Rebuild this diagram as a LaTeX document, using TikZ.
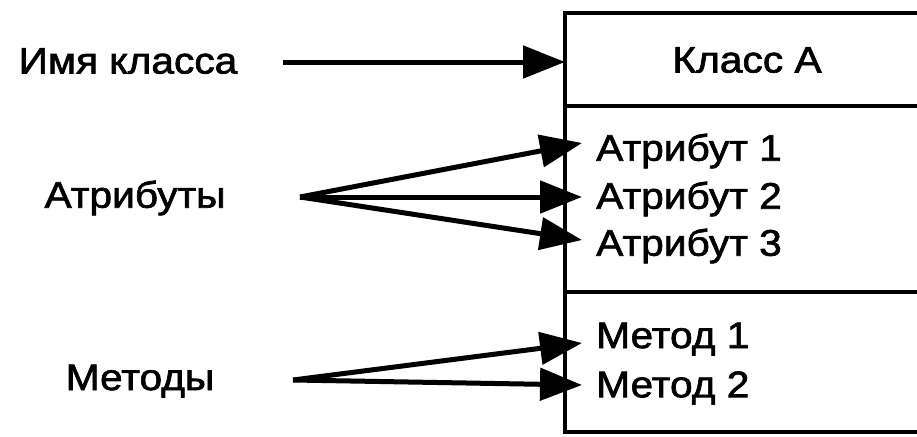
\documentclass[tikz,border=0pt]{standalone}
\usepackage{fontspec}
\newfontfamily\lblfont{Liberation Sans}[FakeBold=1.8,FakeStretch=1.1]
\usetikzlibrary{arrows.meta}
\begin{document}
\begin{tikzpicture}[x=1pt,y=-1pt,
  lbl/.style={inner sep=0pt, font=\lblfont\fontsize{37}{40}\selectfont},
  item/.style={lbl, anchor=west},
  box/.style={line width=4.5pt},
  ptr/.style={line width=5pt, -{Triangle[length=42pt,width=32pt]}}]
  \useasboundingbox (0,0) rectangle (917,436);
  \fill[white] (0,0) rectangle (917,436);
  \clip (0,0) rectangle (917,436);

  % class box, open to the right
  \draw[box] (940,13) -- (565,13) -- (565,432) -- (940,432);
  \draw[box] (565,106) -- (940,106);
  \draw[box] (565,292) -- (940,292);

  % compartment contents
  \node[lbl] (cls) at (747,60) {Класс A};
  \node[item] (a1) at (596,151) {Атрибут 1};
  \node[item] (a2) at (596,199) {Атрибут 2};
  \node[item] (a3) at (596,246) {Атрибут 3};
  \node[item] (m1) at (596,339) {Метод 1};
  \node[item] (m2) at (596,388) {Метод 2};

  % captions on the left
  \node[lbl] (cname) at (128,61) {Имя класса};
  \node[lbl] (cattr) at (135,198) {Атрибуты};
  \node[lbl] (cmeth) at (140,381) {Методы};

  % arrow ends
  \coordinate (nsrc) at (283,62);
  \coordinate (ntip) at (565,62);
  \coordinate (asrc) at (300,197);
  \coordinate (at1) at (582,143);
  \coordinate (at2) at (582,197);
  \coordinate (at3) at (582,240);
  \coordinate (msrc) at (293,380);
  \coordinate (mt1) at (582,343);
  \coordinate (mt2) at (582,385);

  \draw[ptr] (nsrc) -- (ntip);
  \draw[ptr] (asrc) -- (at1);
  \draw[ptr] (asrc) -- (at2);
  \draw[ptr] (asrc) -- (at3);
  \draw[ptr] (msrc) -- (mt1);
  \draw[ptr] (msrc) -- (mt2);
\end{tikzpicture}
\end{document}
